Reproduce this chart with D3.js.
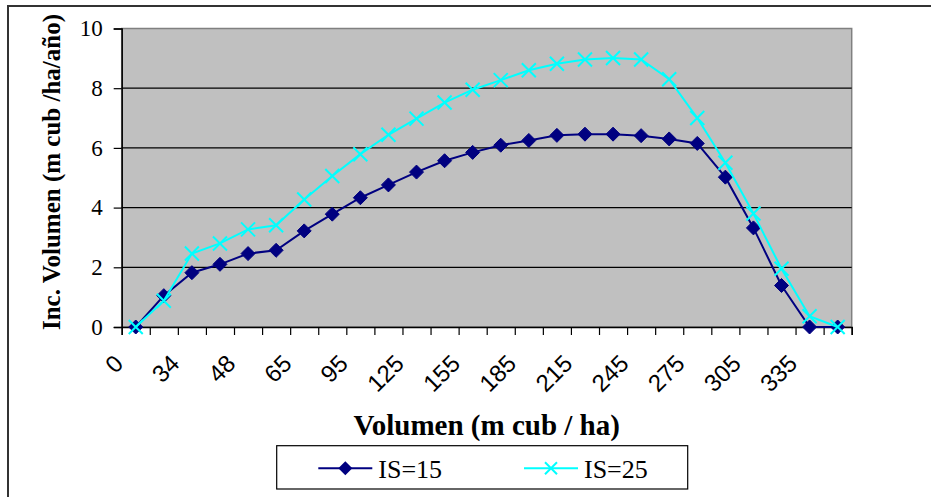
<!DOCTYPE html>
<html>
<head>
<meta charset="utf-8">
<script src="https://cdn.jsdelivr.net/npm/d3@7"></script>
<style>
  html, body { margin: 0; padding: 0; background: #fff; }
  svg { display: block; }
</style>
</head>
<body>
<svg id="chart" width="931" height="497"></svg>
<script>
// ---- data ----
const categories = ["0","20","34","41","48","56","65","80","95","110","125","140","155","170","185","200","215","230","245","260","275","290","305","320","335","350"];
const shownLabels = ["0","34","48","65","95","125","155","185","215","245","275","305","335"];
const is15 = [0, 1.05, 1.82, 2.10, 2.46, 2.57, 3.22, 3.78, 4.33, 4.76, 5.19, 5.57, 5.85, 6.09, 6.25, 6.42, 6.46, 6.46, 6.41, 6.30, 6.15, 5.02, 3.32, 1.39, 0, 0];
const is25 = [0, 0.88, 2.46, 2.80, 3.27, 3.41, 4.27, 5.06, 5.79, 6.44, 6.98, 7.52, 7.95, 8.27, 8.60, 8.82, 8.96, 9.01, 8.96, 8.30, 7.00, 5.50, 3.80, 1.95, 0.36, 0];
const yTicks = [0, 2, 4, 6, 8, 10];
const seriesNames = ["IS=15", "IS=25"];

// ---- layout ----
const svg = d3.select("#chart");
const L = 121.7, R = 851.7, T = 28.5, B = 327;
const serif = "'Liberation Serif','Times New Roman',serif";
const sans = "'Liberation Sans',Arial,sans-serif";

// outer chart border
svg.append("rect").attr("x", 8).attr("y", 6).attr("width", 1000).attr("height", 1000)
  .attr("fill", "#fff").attr("stroke", "#333").attr("stroke-width", 2);

const x = d3.scaleBand().domain(categories).range([L, R]).paddingInner(0).paddingOuter(0);
const xi = d3.scaleLinear().domain([0, categories.length]).range([L, R]);
const y = d3.scaleLinear().domain([0, 10]).range([B, T]);
const cx = (c) => x(c) + x.bandwidth() / 2;

// plot area
svg.append("rect").attr("x", L).attr("y", T).attr("width", R - L).attr("height", B - T)
  .attr("fill", "#c0c0c0").attr("stroke", "#808080").attr("stroke-width", 1.5);

// gridlines
svg.append("g").selectAll("line").data(yTicks.filter(v => v > 0 && v < 10)).join("line")
  .attr("x1", L).attr("x2", R).attr("y1", d => y(d)).attr("y2", d => y(d))
  .attr("stroke", "#000").attr("stroke-width", 1.2);

// y axis
const ya = svg.append("g").attr("transform", `translate(${L},0)`)
  .call(d3.axisLeft(y).tickValues(yTicks).tickSize(8).tickPadding(11).tickFormat(d3.format("d")));
ya.select(".domain").attr("stroke", "#000").attr("stroke-width", 1.5);
ya.selectAll(".tick line").attr("stroke", "#000").attr("stroke-width", 1.2);
ya.selectAll(".tick text").attr("font-family", serif).attr("font-size", 23).attr("fill", "#000");

// x axis: boundary ticks
const xb = svg.append("g").attr("transform", `translate(0,${B})`)
  .call(d3.axisBottom(xi).tickValues(d3.range(categories.length + 1)).tickSize(8).tickFormat(""));
xb.select(".domain").attr("stroke", "#000").attr("stroke-width", 1.5);
xb.selectAll(".tick line").attr("stroke", "#000").attr("stroke-width", 1.2);

// x axis: labels
const xl = svg.append("g").attr("transform", `translate(0,${B})`)
  .call(d3.axisBottom(x).tickSize(0).tickFormat(d => shownLabels.includes(d) && categories.indexOf(d) % 2 === 0 ? d : ""));
xl.select(".domain").remove();
xl.selectAll(".tick text")
  .attr("font-family", sans).attr("font-size", 24).attr("fill", "#000")
  .attr("text-anchor", "end").attr("dy", 0).attr("y", 0)
  .attr("transform", "translate(-11,38) rotate(-45)");

// lines & markers
const line = d3.line().x((d, i) => cx(categories[i])).y(d => y(d));

function drawSeries(vals, color, kind) {
  svg.append("path").datum(vals).attr("d", line)
    .attr("fill", "none").attr("stroke", color).attr("stroke-width", 2);
  const g = svg.append("g");
  vals.forEach((v, i) => {
    const px = cx(categories[i]), py = y(v);
    if (kind === "diamond") {
      g.append("path").attr("d", `M${px},${py - 7}L${px + 7},${py}L${px},${py + 7}L${px - 7},${py}Z`)
        .attr("fill", color).attr("stroke", color).attr("stroke-width", 1);
    } else {
      g.append("path").attr("d", `M${px - 7},${py - 7}L${px + 7},${py + 7}M${px - 7},${py + 7}L${px + 7},${py - 7}`)
        .attr("stroke", color).attr("stroke-width", 2);
    }
  });
}
drawSeries(is15, "#000080", "diamond");
drawSeries(is25, "#00ffff", "x");

// axis titles
svg.append("text").attr("x", 486.7).attr("y", 435).attr("text-anchor", "middle")
  .attr("font-family", serif).attr("font-weight", "bold").attr("font-size", 29).attr("fill", "#000")
  .text("Volumen (m cub / ha)");
svg.append("text").attr("transform", "translate(60,172) rotate(-90)").attr("text-anchor", "middle")
  .attr("font-family", serif).attr("font-weight", "bold").attr("font-size", 25).attr("fill", "#000")
  .text("Inc. Volumen (m cub /ha/año)");

// legend
const lg = svg.append("g");
lg.append("rect").attr("x", 276.7).attr("y", 445.7).attr("width", 411).attr("height", 43.3)
  .attr("fill", "#fff").attr("stroke", "#000").attr("stroke-width", 1.2);
const legendItems = [
  { name: seriesNames[0], color: "#000080", kind: "diamond", x0: 318.3 },
  { name: seriesNames[1], color: "#00ffff", kind: "x", x0: 524 }
];
legendItems.forEach(it => {
  const ly = 468.3;
  lg.append("line").attr("x1", it.x0).attr("x2", it.x0 + 54).attr("y1", ly).attr("y2", ly)
    .attr("stroke", it.color).attr("stroke-width", 2);
  const mx = it.x0 + 27;
  if (it.kind === "diamond") {
    lg.append("path").attr("d", `M${mx},${ly - 7}L${mx + 7},${ly}L${mx},${ly + 7}L${mx - 7},${ly}Z`)
      .attr("fill", it.color);
  } else {
    lg.append("path").attr("d", `M${mx - 6},${ly - 6}L${mx + 6},${ly + 6}M${mx - 6},${ly + 6}L${mx + 6},${ly - 6}`)
      .attr("stroke", it.color).attr("stroke-width", 2);
  }
  lg.append("text").attr("x", it.x0 + 60).attr("y", 478.3)
    .attr("font-family", serif).attr("font-size", 26).attr("fill", "#000").text(it.name);
});
</script>
</body>
</html>
